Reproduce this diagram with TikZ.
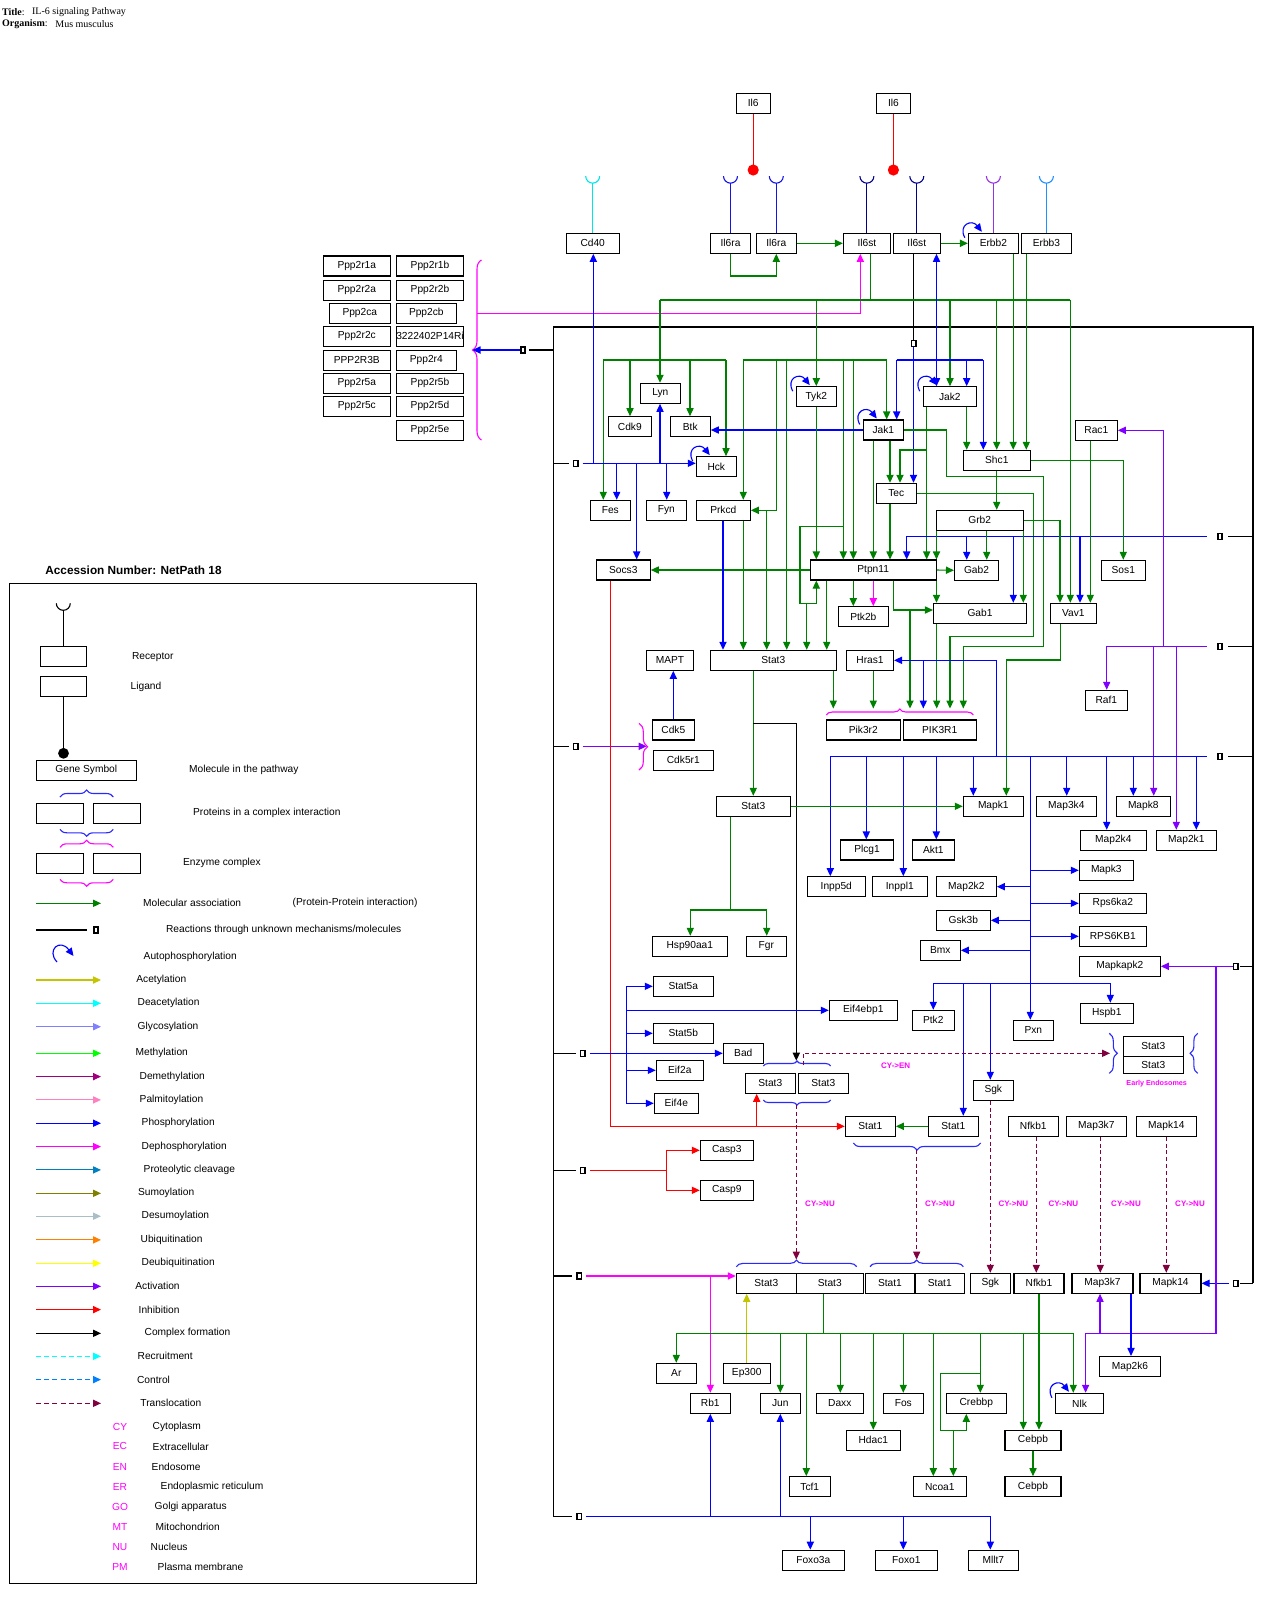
\documentclass[tikz,border=0pt]{standalone}
\usepackage{fontspec}
\setmainfont{Liberation Sans}
\newfontfamily\titlefont{Liberation Serif}
\usetikzlibrary{arrows.meta,decorations.pathreplacing}

\definecolor{cassoc}{RGB}{0,128,0}
\definecolor{cphos}{RGB}{0,0,255}
\definecolor{cdephos}{RGB}{255,0,255}
\definecolor{cact}{RGB}{128,0,255}
\definecolor{cinh}{RGB}{255,0,0}
\definecolor{ctrans}{RGB}{128,0,64}
\definecolor{cacet}{RGB}{196,196,0}
\definecolor{cdeacet}{RGB}{0,255,255}
\definecolor{cglyco}{RGB}{128,128,255}
\definecolor{cmeth}{RGB}{0,255,0}
\definecolor{cdemeth}{RGB}{160,0,128}
\definecolor{cpalm}{RGB}{255,128,192}
\definecolor{cprot}{RGB}{0,128,192}
\definecolor{csumo}{RGB}{128,128,0}
\definecolor{cdesumo}{RGB}{170,190,200}
\definecolor{cubiq}{RGB}{255,128,0}
\definecolor{cdeubiq}{RGB}{255,255,0}
\definecolor{ccontrol}{RGB}{0,128,255}
\definecolor{cbrace}{RGB}{40,40,255}
\definecolor{cilst}{RGB}{0,0,140}
\definecolor{cerbbb}{RGB}{150,50,230}
\definecolor{cerbbc}{RGB}{30,144,255}
\definecolor{ccdf}{RGB}{0,230,230}
\definecolor{cilra}{RGB}{20,20,230}
\definecolor{cloc}{RGB}{255,0,255}

\newdimen\pxu \pxu=0.5pt
% gene box: name, x, y, width, label
\newcommand\gn[5]{\node[gbox,minimum width=#4\pxu] (#1) at (#2,#3) {#5};}
% small square for unknown mechanisms
\newcommand\dsq[3]{\node[dbox] (#1) at (#2,#3) {};}
% autophosphorylation curl on the top-left corner of a box
\newcommand\autoph[1]{\draw[phos,->] ([shift={(-1.5pt,-2.5pt)}]#1.north west) .. controls +(-3.5pt,6.5pt) and +(-5pt,6.5pt) .. ([shift={(7pt,0.5pt)}]#1.north west);}
% receptor cup above a box
\newcommand\rcp[2]{\draw[conn,color=#1] (#2.north) -- ++(0,-49.6); \draw[conn,color=#1] (#2.north) ++(-7,-56.6) arc[start angle=180,end angle=360,radius=3.5pt];}

\begin{document}
\begin{tikzpicture}[x=0.5pt,y=-0.5pt,>={Triangle[length=4pt,width=3.6pt]},
  gbox/.style={draw=black,line width=0.55pt,minimum height=20\pxu,inner sep=0pt,font=\fontsize{5.1pt}{6pt}\selectfont},
  dbox/.style={draw=black,line width=0.8pt,minimum width=2.2pt,minimum height=3pt,inner sep=0pt},
  conn/.style={line width=0.55pt},
  assoc/.style={conn,color=cassoc},
  phos/.style={conn,color=cphos},
  dephos/.style={conn,color=cdephos},
  activ/.style={conn,color=cact},
  inhib/.style={conn,color=cinh},
  cplx/.style={conn,color=black},
  transl/.style={conn,color=ctrans,dash pattern=on 2pt off 1.4pt},
  acet/.style={conn,color=cacet},
  lab/.style={anchor=west,inner sep=0pt,font=\fontsize{5.1pt}{6pt}\selectfont},
  loc/.style={inner sep=0pt,text=cloc,font=\fontsize{4pt}{5pt}\selectfont\bfseries},
  brc/.style={conn,decorate,decoration={brace,amplitude=#1}},
]
\fill[white] (0,0) rectangle (1283,1613);
\useasboundingbox (0,0) rectangle (1283,1613);

% ---------- title ----------
\node[anchor=west,inner sep=0pt,font=\titlefont\fontsize{5pt}{6pt}\selectfont] at (1.7,11.7) {\textbf{Title}:};
\node[anchor=west,inner sep=0pt,font=\titlefont\fontsize{5pt}{6pt}\selectfont] at (31.7,11.7) {IL-6 signaling Pathway};
\node[anchor=west,inner sep=0pt,font=\titlefont\fontsize{5pt}{6pt}\selectfont] at (1.7,24.3) {\textbf{Organism}:};
\node[anchor=west,inner sep=0pt,font=\titlefont\fontsize{5pt}{6pt}\selectfont] at (55,24.3) {Mus musculus};

% ---------- ligands and receptors ----------
\gn{il6a}{753.2}{103.3}{34}{Il6}
\gn{il6b}{893.4}{103.3}{34}{Il6}
\gn{cd40}{592.7}{243.3}{53}{Cd40}
\gn{il6ra}{730.5}{243.3}{40}{Il6ra}
\gn{il6rb}{776.3}{243.3}{40}{Il6ra}
\gn{il6sa}{866.9}{243.3}{47}{Il6st}
\gn{il6sb}{916.8}{243.3}{47}{Il6st}
\gn{erbb2}{993.4}{243.3}{50}{Erbb2}
\gn{erbb3}{1046.4}{243.3}{50}{Erbb3}

\draw[conn,red] (il6a.south) -- (753.2,170);
\fill[red] (753.2,170) circle (2.8pt);
\draw[conn,red] (il6b.south) -- (893.4,170);
\fill[red] (893.4,170) circle (2.8pt);
\rcp{ccdf}{cd40}
\rcp{cilra}{il6ra}
\rcp{cilra}{il6rb}
\rcp{cilst}{il6sa}
\rcp{cilst}{il6sb}
\rcp{cerbbb}{erbb2}
\rcp{cerbbc}{erbb3}

\draw[assoc,->] (il6ra.south) -- (730.5,276) -| (il6rb.south);
\draw[assoc,->] (il6rb.east) -- (il6sa.west);
\draw[assoc,->] (il6sb.east) -- (erbb2.west);
\autoph{erbb2}

% ---------- PP2A complex ----------
\gn{pa}{356.8}{266}{67}{Ppp2r1a}
\gn{pb}{356.8}{290.3}{67}{Ppp2r2a}
\gn{pc}{359.8}{313.3}{61}{Ppp2ca}
\gn{pd}{356.8}{336.3}{67}{Ppp2r2c}
\gn{pe}{356.8}{360.3}{67}{PPP2R3B}
\gn{pf}{356.8}{383.3}{67}{Ppp2r5a}
\gn{pg}{356.8}{406.3}{67}{Ppp2r5c}
\gn{qa}{430}{266}{67.4}{Ppp2r1b}
\gn{qb}{430}{290.3}{67.4}{Ppp2r2b}
\gn{qc}{426.3}{313.3}{60}{Ppp2cb}
\gn{qd}{430}{336.3}{67.4}{3222402P14Ri}
\gn{qe}{426.3}{360.3}{60}{Ppp2r4}
\gn{qf}{430}{383.3}{67.4}{Ppp2r5b}
\gn{qg}{430}{406.3}{67.4}{Ppp2r5d}
\gn{qh}{430}{430.3}{67.4}{Ppp2r5e}
\draw[brc=4.5pt,color=cdephos] (481.5,440) -- (481.5,260);
\coordinate (pptip) at (472.5,350);
\draw[dephos,->] (476.7,313.3) -- (860.3,313.3) -- (860.3,0 |- il6sa.south);

% ---------- frame of unknown-mechanism links ----------
\draw[cplx] (553.3,1516.3) -- (553.3,327) -- (1253,327) -- (1253,1283.3);
\dsq{dpp}{523}{350}
\draw[cplx] (553.3,350) -- (529,350);
\draw[phos,->] (dpp.west) -- (pptip);
\dsq{dla}{575.7}{463.3}
\dsq{dlb}{575.7}{746.3}
\dsq{dlc}{582.7}{1053.3}
\dsq{dld}{582.7}{1170.3}
\dsq{dle}{579.3}{1276}
\dsq{dlf}{579.3}{1516.3}
\foreach \yy/\xx in {463.3/568.7,746.3/568.7,1053.3/575.7,1170.3/575.7,1276/572.3,1516.3/572.3}
  \draw[cplx] (553.3,\yy) -- (\xx,\yy);
\dsq{dra}{1220}{536.3}
\dsq{drb}{1220}{646.3}
\dsq{drc}{1220}{756.3}
\dsq{drd}{1235.5}{966.3}
\dsq{dre}{1235.5}{1283.3}
\foreach \yy/\xx in {536.3/1228,646.3/1228,756.3/1228,966.3/1240,1283.3/1240}
  \draw[cplx] (1253,\yy) -- (\xx,\yy);
\dsq{dtop}{913.5}{343.3}
\draw[cplx] (913.5,0 |- il6sb.south) -- (dtop.north);

% ---------- cytoplasmic molecules ----------
\gn{lyn}{660.3}{393.3}{40}{Lyn}
\gn{cdk9}{629.8}{426.7}{43}{Cdk9}
\gn{btk}{690.3}{426.7}{40}{Btk}
\gn{hck}{716.3}{466.7}{40}{Hck}
\gn{fes}{610.3}{510.3}{40}{Fes}
\gn{fyn}{666.3}{510.3}{40}{Fyn}
\gn{prkcd}{723.3}{510.3}{54}{Prkcd}
\gn{socs3}{623.3}{570}{54}{Socs3}
\gn{tyk2}{816.3}{396.7}{40}{Tyk2}
\gn{jak1}{883.3}{430}{40}{Jak1}
\gn{jak2}{949.8}{396.7}{53}{Jak2}
\gn{tec}{896.3}{493.3}{40}{Tec}
\gn{shc1}{996.8}{460.3}{67}{Shc1}
\gn{rac1}{1096.3}{430.3}{42}{Rac1}
\gn{grb2}{979.7}{520.3}{87}{Grb2}
\gn{ptpn11}{873.2}{570}{126}{Ptpn11}
\gn{gab2}{976.5}{570.3}{44}{Gab2}
\gn{sos1}{1123.3}{570.3}{44}{Sos1}
\gn{ptk2b}{863.3}{616.7}{50}{Ptk2b}
\gn{gab1}{980}{613.3}{93}{Gab1}
\gn{vav1}{1073.3}{613.3}{46}{Vav1}
\gn{mapt}{670}{660.3}{47}{MAPT}
\gn{stat3u}{773.3}{660.3}{126}{Stat3}
\gn{hras1}{870}{660.3}{47}{Hras1}
\gn{raf1}{1106.3}{700.3}{42}{Raf1}
\gn{cdk5}{673.3}{730}{42}{Cdk5}
\gn{cdk5r1}{683.3}{760.3}{60}{Cdk5r1}
\gn{pik3r2}{863.3}{730}{74}{Pik3r2}
\gn{pik3r1}{939.7}{730}{73}{PIK3R1}
\gn{stat3m}{753.3}{806.3}{74}{Stat3}
\gn{mapk1}{993.3}{806.3}{60}{Mapk1}
\gn{map3k4}{1066.3}{806.3}{60}{Map3k4}
\gn{mapk8}{1143.3}{806.3}{54}{Mapk8}
\gn{map2k4}{1113.3}{840.3}{66}{Map2k4}
\gn{map2k1}{1186.3}{840.3}{60}{Map2k1}
\gn{plcg1}{867}{850}{53}{Plcg1}
\gn{akt1}{933.3}{850}{42}{Akt1}
\gn{mapk3}{1106.3}{870.3}{54}{Mapk3}
\gn{inpp5d}{836.3}{886.7}{58}{Inpp5d}
\gn{inppl1}{899.8}{886.7}{55}{Inppl1}
\gn{map2k2}{966.3}{886.7}{60}{Map2k2}
\gn{rps6ka2}{1112.8}{903.3}{67}{Rps6ka2}
\gn{gsk3b}{963.3}{920.3}{54}{Gsk3b}
\gn{rps6kb1}{1112.8}{936.3}{67}{RPS6KB1}
\gn{hsp90}{689.8}{946.3}{75}{Hsp90aa1}
\gn{fgr}{766.3}{946.3}{40}{Fgr}
\gn{bmx}{940.3}{950.3}{40}{Bmx}
\gn{mapkapk2}{1119.8}{966.3}{81}{Mapkapk2}
\gn{stat5a}{683.3}{986.3}{60}{Stat5a}
\gn{eif4ebp1}{863.3}{1010.3}{68}{Eif4ebp1}
\gn{ptk2}{933.3}{1020.3}{42}{Ptk2}
\gn{hspb1}{1106.8}{1013.3}{53}{Hspb1}
\gn{pxn}{1033.3}{1030.3}{40}{Pxn}
\gn{stat5b}{683.3}{1033.3}{60}{Stat5b}
\gn{bad}{743.3}{1053.3}{40}{Bad}
\gn{eea}{1153.3}{1046.3}{60}{Stat3}
\node[gbox,minimum width=60\pxu,minimum height=17\pxu] (eeb) at (1153.3,1064.8) {Stat3};
\gn{eif2a}{679.8}{1070.3}{47}{Eif2a}
\gn{stpa}{770.3}{1083.3}{50}{Stat3}
\gn{stpb}{823.3}{1083.3}{50}{Stat3}
\gn{sgk}{993.3}{1090.3}{40}{Sgk}
\gn{eif4e}{676.3}{1103.3}{44}{Eif4e}
\gn{sta}{870.3}{1126.3}{50}{Stat1}
\gn{stb}{953.3}{1126.3}{50}{Stat1}
\gn{nfkb1}{1033.3}{1126.3}{50}{Nfkb1}
\gn{map3k7}{1096.3}{1126.3}{60}{Map3k7}
\gn{mapk14}{1166.3}{1126.3}{60}{Mapk14}
\gn{casp3}{726.8}{1150.3}{53}{Casp3}
\gn{casp9}{726.8}{1190.3}{53}{Casp9}

% ---------- nuclear molecules ----------
\gn{nsta}{766.3}{1283.3}{60}{Stat3}
\gn{nstb}{829.8}{1283.3}{67}{Stat3}
\gn{nsoa}{890}{1283.3}{49}{Stat1}
\gn{nsob}{939.8}{1283.3}{49}{Stat1}
\gn{nsgk}{990.3}{1283.3}{40}{Sgk}
\gn{nnfkb1}{1039}{1283.3}{50}{Nfkb1}
\gn{nmap3k7}{1102.5}{1283.3}{61}{Map3k7}
\gn{nmapk14}{1170.5}{1283.3}{61}{Mapk14}
\gn{ar}{676.3}{1373.3}{40}{Ar}
\gn{ep300}{746.7}{1373.3}{47}{Ep300}
\gn{map2k6}{1130}{1366.5}{61}{Map2k6}
\gn{rb1}{710.3}{1403.3}{40}{Rb1}
\gn{jun}{780.3}{1403.3}{40}{Jun}
\gn{daxx}{839.8}{1403.3}{47}{Daxx}
\gn{fos}{903.3}{1403.3}{40}{Fos}
\gn{crebbp}{976.3}{1403.3}{60}{Crebbp}
\gn{nlk}{1079.5}{1403.3}{48}{Nlk}
\gn{hdac1}{873.3}{1440.3}{54}{Hdac1}
\gn{cebpba}{1033}{1440.3}{56}{Cebpb}
\gn{tcf1}{809.8}{1486.7}{41}{Tcf1}
\gn{ncoa1}{939.8}{1486.7}{53}{Ncoa1}
\gn{cebpbb}{1033}{1486.7}{56}{Cebpb}
\gn{foxo3a}{813.3}{1560.2}{62}{Foxo3a}
\gn{foxo1}{906.3}{1560.2}{62}{Foxo1}
\gn{mllt7}{993.3}{1560.2}{50}{Mllt7}

% ---------- receptor-proximal signalling ----------
\draw[assoc] (870.6,0 |- il6sa.south) -- (870.6,300);
\draw[assoc] (660,300) -- (1070.3,300);
\draw[assoc,->] (660,300) -- (660,0 |- lyn.north);
\draw[assoc,->] (816.3,300) -- (tyk2.north);
\draw[assoc,->] (950,300) -- (950,0 |- jak2.north);
\draw[assoc,->] (996.7,300) -- (996.7,0 |- shc1.north);
\draw[assoc,->] (1070.3,300) -- (1070.3,0 |- vav1.north);
\draw[assoc,->] (1013.2,0 |- erbb2.south) -- (1013.2,0 |- shc1.north);
\draw[assoc,->] (1026.3,0 |- erbb3.south) -- (1026.3,0 |- shc1.north);

\draw[assoc] (603.3,360) -- (726,360);
\draw[assoc,->] (603.3,360) -- (603.3,0 |- fes.north);
\draw[assoc,->] (630,360) -- (630,0 |- cdk9.north);
\draw[assoc,->] (690,360) -- (690,0 |- btk.north);
\draw[assoc,->] (726,360) -- (726,0 |- hck.north);

\draw[assoc] (743.3,360) -- (886.7,360);
\draw[assoc,->] (743.3,360) -- (743.3,0 |- prkcd.north);
\draw[assoc,->] (776.7,360) -- (776.7,510.3) -- (prkcd.east);
\draw[assoc,->] (766.7,510.3) -- (766.7,0 |- stat3u.north);
\draw[assoc,->] (786.7,360) -- (786.7,0 |- stat3u.north);
\draw[assoc,->] (843.3,360) -- (843.3,0 |- ptpn11.north);
\draw[assoc,->] (853.3,360) -- (853.3,0 |- ptpn11.north);
\draw[assoc,->] (886.7,360) -- (886.7,0 |- jak1.north);
\draw[assoc,->] (843.3,526.7) -- (800,526.7) -- (800,603.3) -- (816.3,603.3) -- (816.3,0 |- ptpn11.south);
\draw[assoc,->] (806.7,603.3) -- (806.7,0 |- stat3u.north);

\draw[phos] (896.7,360) -- (983.3,360);
\draw[phos,<->] (936.5,0 |- il6sb.south) -- (936.5,0 |- jak2.north);
\draw[phos,->] (896.7,360) -- (896.7,0 |- jak1.north);
\draw[phos,->] (966.7,360) -- (966.7,0 |- jak2.north);
\draw[phos,->] (983.3,360) -- (983.3,0 |- shc1.north);
\draw[phos,->] (dtop.south) -- (913.5,0 |- tec.north);

\draw[phos,->] (dla.east) ++(4,0) -- (hck.west |- 0,463.3);
\draw[phos,->] (593.3,463.3) -- (593.3,0 |- cd40.south);
\draw[phos,->] (616.7,463.3) -- (616.7,0 |- fes.north);
\draw[phos,->] (636.7,463.3) -- (636.7,0 |- socs3.north);
\draw[phos,->] (660,463.3) -- (660,0 |- lyn.south);
\draw[phos,->] (666.7,463.3) -- (666.7,0 |- fyn.north);

\autoph{tyk2}
\autoph{jak1}
\autoph{jak2}
\autoph{hck}
\draw[phos,->] (jak1.west) -- (btk.east |- jak1.west);
\draw[assoc,->] (tyk2.south) -- (816.3,0 |- ptpn11.north);
\draw[assoc,->] (873.3,0 |- jak1.south) -- (873.3,0 |- ptpn11.north);
\draw[assoc,->] (890,0 |- jak1.south) -- (890,0 |- tec.north);
\draw[assoc,->] (jak1.east) -- (946.3,430) -- (946.3,476.3) -- (1043.3,476.3) -- (1043.3,646.3) -- (963.3,646.3) -- (963.3,708.5);
\draw[assoc,->] (tec.east) -- (1033.3,493.3) -- (1033.3,636.3) -- (950,636.3) -- (950,708.5);
\draw[assoc,->] (890,0 |- tec.south) -- (890,0 |- ptpn11.north);
\draw[assoc,->] (926.7,0 |- jak2.south) -- (926.7,0 |- ptpn11.north);
\draw[assoc,->] (926.7,450) -- (900,450) -- (900,0 |- tec.north);
\draw[assoc,->] (966.7,0 |- jak2.south) -- (966.7,0 |- shc1.north);

\draw[phos] (1206.7,536.3) -- (906.7,536.3);
\draw[phos,->] (906.7,536.3) -- (906.7,0 |- ptpn11.north);
\draw[phos,->] (966.7,536.3) -- (966.7,0 |- gab2.north);
\draw[phos,->] (1013.3,536.3) -- (1013.3,0 |- gab1.north);
\draw[phos,->] (1080,536.3) -- (1080,0 |- vav1.north);

\draw[assoc,->] (936.5,0 |- grb2.south) -- (936.5,0 |- ptpn11.north);
\draw[assoc,->] (936.5,0 |- ptpn11.south) -- (936.5,0 |- gab1.north);
\draw[assoc,->] (986.7,0 |- grb2.south) -- (986.7,0 |- gab2.north);
\draw[assoc,->] (1023.3,0 |- grb2.south) -- (1023.3,0 |- gab1.north);
\draw[assoc,->] (grb2.east) -- (1060,520.3) -- (1060,0 |- vav1.north);
\draw[assoc,->] (996.7,0 |- shc1.south) -- (996.7,0 |- grb2.north);
\draw[assoc,->] (shc1.east) -- (1123.3,460.3) -- (sos1.north);
\draw[assoc,->] (1090.3,0 |- rac1.south) -- (1090.3,0 |- vav1.north);

\draw[assoc,->] (ptpn11.east) -- (gab2.west);
\draw[assoc,->] (ptpn11.west) -- (socs3.east);
\draw[assoc,->] (853.3,0 |- ptpn11.south) -- (853.3,0 |- ptk2b.north);
\draw[dephos,->] (873.3,0 |- ptpn11.south) -- (873.3,0 |- ptk2b.north);
\draw[assoc,->] (893.3,0 |- ptpn11.south) -- (893.3,610) -- (gab1.west |- 0,610);
\draw[assoc,->] (910,610) -- (910,708.5);
\draw[assoc,->] (826.7,0 |- ptpn11.south) -- (826.7,0 |- stat3u.north);
\draw[assoc,->] (936.7,0 |- gab1.south) -- (936.7,708.5);
\draw[assoc,->] (1060.3,0 |- vav1.south) -- (1060.3,660) -- (1006.3,660) -- (1006.3,0 |- mapk1.north);
\draw[phos,->] (723,0 |- prkcd.south) -- (723,0 |- stat3u.north);
\draw[assoc,->] (743.3,0 |- prkcd.south) -- (743.3,0 |- stat3u.north);

% PI3K regulatory complex
\draw[brc=3pt,color=cdephos] (826.3,715) -- (973.3,715);
\draw[assoc,->] (833.3,0 |- stat3u.south) -- (833.3,708.5);
\draw[assoc,->] (873.3,0 |- hras1.south) -- (873.3,708.5);
\draw[phos,->] (996.7,756.3) -- (996.7,660.3) -- (hras1.east);
\draw[phos,->] (923.3,660.3) -- (923.3,708.5);

\draw[phos,->] (cdk5.north) -- (mapt.south -| cdk5.north);
\draw[brc=4.3pt,color=cdephos] (639,723.3) -- (639,770);
\draw[activ,->] (dlb.east) ++(4,0) -- (646.7,746.3);

% activation fan from the right
\draw[activ] (1206.7,646.3) -- (1106.7,646.3);
\draw[activ,->] (1106.7,646.3) -- (1106.7,0 |- raf1.north);
\draw[activ,->] (1163.3,646.3) -- (1163.3,430.3) -- (rac1.east);
\draw[activ,->] (1153.7,646.3) -- (1153.7,0 |- mapk8.north);
\draw[activ,->] (1176.3,646.3) -- (1176.3,0 |- map2k1.north);

% phosphorylation fan from the right
\draw[phos] (1206.7,756.3) -- (830.3,756.3);
\draw[phos,->] (830.3,756.3) -- (830.3,0 |- inpp5d.north);
\draw[phos,->] (866.3,756.3) -- (866.3,0 |- plcg1.north);
\draw[phos,->] (903.3,756.3) -- (903.3,0 |- inppl1.north);
\draw[phos,->] (936.3,756.3) -- (936.3,0 |- akt1.north);
\draw[phos,->] (973.3,756.3) -- (973.3,0 |- mapk1.north);
\draw[phos,->] (1066.7,756.3) -- (1066.7,0 |- map3k4.north);
\draw[phos,->] (1106.7,756.3) -- (1106.7,0 |- map2k4.north);
\draw[phos,->] (1133.3,756.3) -- (1133.3,0 |- mapk8.north);
\draw[phos,->] (1196.3,756.3) -- (1196.3,0 |- map2k1.north);
\draw[phos,->] (1030.3,756.3) -- (1030.3,0 |- pxn.north);
\draw[phos,->] (1030.3,870.3) -- (mapk3.west);
\draw[phos,->] (1030.3,886.7) -- (map2k2.east);
\draw[phos,->] (1030.3,903.3) -- (rps6ka2.west);
\draw[phos,->] (1030.3,920.3) -- (gsk3b.east);
\draw[phos,->] (1030.3,936.3) -- (rps6kb1.west);
\draw[phos,->] (1030.3,950.3) -- (bmx.east);
\draw[phos] (933.3,983.3) -- (1110.3,983.3);
\draw[phos,->] (933.3,983.3) -- (ptk2.north);
\draw[phos,->] (963.3,983.3) -- (963.3,0 |- stb.north);
\draw[phos,->] (990.3,983.3) -- (990.3,0 |- sgk.north);
\draw[phos,->] (1110.3,983.3) -- (1110.3,0 |- hspb1.north);

% STAT3 branch
\draw[assoc,->] (753.3,0 |- stat3u.south) -- (stat3m.north);
\draw[cplx,->] (753.3,723.3) -- (796.3,723.3) -- (796.3,1060.7);
\draw[assoc,->] (stat3m.east) -- (mapk1.west);
\draw[assoc] (730.3,0 |- stat3m.south) -- (730.3,910);
\draw[assoc,->] (690.3,910) -- (766.7,910) -- (766.7,0 |- fgr.north);
\draw[assoc,->] (690.3,910) -- (690.3,0 |- hsp90.north);

% inhibition by Socs3
\draw[inhib,->] (610.3,0 |- socs3.south) -- (610.3,1126.3) -- (sta.west);
\draw[inhib,->] (756.7,1126.3) -- (756.7,0 |- stpa.south);
\draw[assoc,->] (stb.west) -- (sta.east);

% left-hand phosphorylation fan
\draw[phos,->] (dlc.east) ++(4,0) -- (bad.west);
\draw[phos] (626.3,986.3) -- (626.3,1103.3);
\draw[phos,->] (626.3,986.3) -- (stat5a.west);
\draw[phos,->] (626.3,1010.3) -- (eif4ebp1.west);
\draw[phos,->] (626.3,1033.3) -- (stat5b.west);
\draw[phos,->] (626.3,1070.3) -- (eif2a.west);
\draw[phos,->] (626.3,1103.3) -- (eif4e.west);

\draw[inhib] (dld.east) ++(4,0) -- (666.3,1170.3);
\draw[inhib] (666.3,1150.3) -- (666.3,1190.3);
\draw[inhib,->] (666.3,1150.3) -- (casp3.west);
\draw[inhib,->] (666.3,1190.3) -- (casp9.west);

% complexes
\draw[brc=2.5pt,color=cbrace] (763.3,1066) -- (830.7,1066);
\draw[brc=2.5pt,color=cbrace] (830.7,1100) -- (763.3,1100);
\draw[brc=3.5pt,color=cbrace] (980.7,1143) -- (853.3,1143);
\draw[brc=4pt,color=cbrace] (1109.3,1033.3) -- (1109.3,1073.3);
\draw[brc=3.8pt,color=cbrace] (1197.7,1073.3) -- (1197.7,1033.3);
\node[loc,font=\fontsize{3.6pt}{4pt}\selectfont\bfseries] at (1156.7,1083.3) {Early Endosomes};

% translocations
\draw[transl,->] (803.3,1065) -- (803.3,1053.3) -- (1110,1053.3);
\node[loc] at (895.7,1066) {CY->EN};
\draw[transl,->] (796.3,1105) -- (796.3,1259.5);
\draw[transl,->] (916.7,1150) -- (916.7,1259.5);
\draw[transl,->] (990.3,0 |- sgk.south) -- (990.3,0 |- nsgk.north);
\draw[transl,->] (1036.3,0 |- nfkb1.south) -- (1036.3,0 |- nnfkb1.north);
\draw[transl,->] (1100.3,0 |- map3k7.south) -- (1100.3,0 |- nmap3k7.north);
\draw[transl,->] (1166.3,0 |- mapk14.south) -- (1166.3,0 |- nmapk14.north);
\foreach \xx in {820,940,1013.3,1063.3,1126,1190}
  \node[loc] at (\xx,1203.3) {CY->NU};

% nuclear events
\draw[brc=3.3pt,color=cbrace] (736.3,1266.7) -- (856.7,1266.7);
\draw[brc=3.3pt,color=cbrace] (870,1266.7) -- (963.3,1266.7);
\draw[dephos,->] (dle.east) ++(4,0) -- (nsta.west |- 0,1276);
\draw[dephos,->] (710.3,1276) -- (710.3,0 |- rb1.north);
\draw[acet,->] (ep300.north) -- (746.7,0 |- nsta.south);
\draw[phos,->] (dre.west) ++(-4,0) -- (nmapk14.east);

\draw[assoc] (823.3,0 |- nstb.south) -- (823.3,1333.3);
\draw[assoc] (676.3,1333.3) -- (1073.3,1333.3);
\draw[assoc,->] (676.3,1333.3) -- (ar.north);
\draw[assoc,->] (780.3,1333.3) -- (jun.north);
\draw[assoc,->] (806.3,1333.3) -- (806.3,0 |- tcf1.north);
\draw[assoc,->] (840.3,1333.3) -- (840.3,0 |- daxx.north);
\draw[assoc,->] (873.3,1333.3) -- (873.3,0 |- hdac1.north);
\draw[assoc,->] (903.3,1333.3) -- (fos.north);
\draw[assoc,->] (933.3,1333.3) -- (933.3,0 |- ncoa1.north);
\draw[assoc,->] (980.3,1333.3) -- (980.3,0 |- crebbp.north);
\draw[assoc,->] (1023.3,1333.3) -- (1023.3,0 |- cebpba.north);
\draw[assoc,->] (1073.3,1333.3) -- (1073.3,0 |- nlk.north);
\draw[assoc,->] (980.3,1373.3) -- (940.3,1373.3) -- (940.3,1430.3) -- (966.3,1430.3) -- (966.3,0 |- crebbp.south);
\draw[assoc,->] (953.3,1430.3) -- (953.3,0 |- ncoa1.north);
\draw[assoc,->] (cebpba.south) -- (cebpbb.north);
\draw[assoc,->] (1039,0 |- nnfkb1.south) -- (1039,0 |- cebpba.north);

\draw[activ,->] (drd.west) -- (mapkapk2.east);
\draw[activ,->] (1216,966.3) -- (1216,1333.6) -- (1085.6,1333.6) -- (1085.6,0 |- nlk.north);
\draw[activ,->] (1100,1333.6) -- (1100,0 |- nmap3k7.south);
\draw[phos,->] (1131,0 |- nmapk14.south) -- (1131,0 |- map2k6.north);
\autoph{nlk}

\draw[phos] (dlf.east) ++(4,0) -- (990.3,1516.3);
\draw[phos,->] (710.3,1516.3) -- (rb1.south);
\draw[phos,->] (780.3,1516.3) -- (jun.south);
\draw[phos,->] (810.3,1516.3) -- (810.3,0 |- foxo3a.north);
\draw[phos,->] (903.3,1516.3) -- (903.3,0 |- foxo1.north);
\draw[phos,->] (990.3,1516.3) -- (990.3,0 |- mllt7.north);

% ---------- legend ----------
\node[anchor=west,inner sep=0pt,font=\fontsize{5.9pt}{7pt}\selectfont\bfseries] at (45,570) {Accession Number: NetPath 18};
\draw[line width=0.6pt] (9.3,583.3) rectangle (476.7,1583.3);
\draw[conn] (56.3,603.3) arc[start angle=180,end angle=360,radius=3.5pt];
\draw[conn] (63.5,610.3) -- (63.5,646.3);
\node[gbox,minimum width=46.4\pxu] (lrec) at (63.5,656.3) {};
\node[gbox,minimum width=46.4\pxu] (llig) at (63.5,686.3) {};
\draw[conn] (llig.south) -- (63.5,753.3);
\fill (63.5,753.3) circle (2.7pt);
\gn{lgene}{86.3}{770.3}{100}{Gene Symbol}
\node[lab] at (131.7,656.7) {Receptor};
\node[lab] at (130.3,686.7) {Ligand};
\node[lab] at (188.7,770.3) {Molecule in the pathway};
\draw[brc=3.5pt,color=cbrace] (60,797) -- (113.3,797);
\gn{lca}{59.8}{813.3}{47}{}
\gn{lcb}{116.8}{813.3}{47}{}
\node[lab] at (192.7,813.3) {Proteins in a complex interaction};
\draw[brc=3.5pt,color=cbrace] (113.3,829.3) -- (60,829.3);
\draw[brc=3.5pt,color=cdephos] (60,847.3) -- (113.3,847.3);
\gn{lea}{59.8}{863.3}{47}{}
\gn{leb}{116.8}{863.3}{47}{}
\node[lab] at (182.7,863.3) {Enzyme complex};
\draw[brc=3.5pt,color=cdephos] (113.3,879.3) -- (60,879.3);

\draw[assoc,->] (36,903.3) -- (101,903.3);
\node[lab] at (142.7,903.3) {Molecular association};
\node[lab] at (292.3,903.3) {(Protein-Protein interaction)};
\draw[cplx] (36,930) -- (86.7,930);
\node[dbox] at (96,930) {};
\node[lab] at (165.7,930) {Reactions through unknown mechanisms/molecules};
\draw[phos,->] (57,962) .. controls (46,950) and (60,938) .. (73.5,956);
\node[lab] at (143.3,956.7) {Autophosphorylation};
\foreach \yy/\cc/\xx/\tt in {
  980/cacet/136/Acetylation,
  1003.3/cdeacet/137.3/Deacetylation,
  1026.7/cglyco/137.3/Glycosylation,
  1053.3/cmeth/135.3/Methylation,
  1076.6/cdemeth/139.3/Demethylation,
  1099.9/cpalm/139.3/Palmitoylation,
  1123.2/cphos/141.3/Phosphorylation,
  1146.6/cdephos/141.3/Dephosphorylation,
  1169.9/cprot/143.3/Proteolytic cleavage,
  1193.3/csumo/137.7/Sumoylation,
  1216.2/cdesumo/141.3/Desumoylation,
  1239.9/cubiq/140.3/Ubiquitination,
  1263.3/cdeubiq/141.3/Deubiquitination,
  1286.3/cact/135/Activation,
  1309.6/cinh/138.3/Inhibition,
  1333.3/black/144.3/Complex formation}
{
  \draw[conn,color=\cc,->] (36,\yy) -- (101,\yy);
  \node[lab] at (\xx,\yy) {\tt};
}
\draw[conn,color=cdeacet,dash pattern=on 2.5pt off 1.6pt,->] (36,1356.3) -- (101,1356.3);
\node[lab] at (137.3,1356.3) {Recruitment};
\draw[conn,color=ccontrol,dash pattern=on 2.5pt off 1.6pt,->] (36,1379.6) -- (101,1379.6);
\node[lab] at (136.7,1379.6) {Control};
\draw[conn,color=ctrans,dash pattern=on 2.5pt off 1.6pt,->] (36,1403.3) -- (101,1403.3);
\node[lab] at (140,1403.3) {Translocation};
\foreach \yy/\cd/\xx/\tt in {
  1426.7/CY/152.3/Cytoplasm,
  1446.4/EC/152.3/Extracellular,
  1466.5/EN/151.3/Endosome,
  1486.6/ER/160.3/Endoplasmic reticulum,
  1506.7/GO/154.3/Golgi apparatus,
  1526.5/MT/155.3/Mitochondrion,
  1546.6/NU/150.3/Nucleus,
  1566.7/PM/157.3/Plasma membrane}
{
  \node[inner sep=0pt,text=cloc,font=\fontsize{5.1pt}{6pt}\selectfont] at (120,\yy) {\cd};
  \node[lab] at (\xx,\yy) {\tt};
}
\end{tikzpicture}
\end{document}
